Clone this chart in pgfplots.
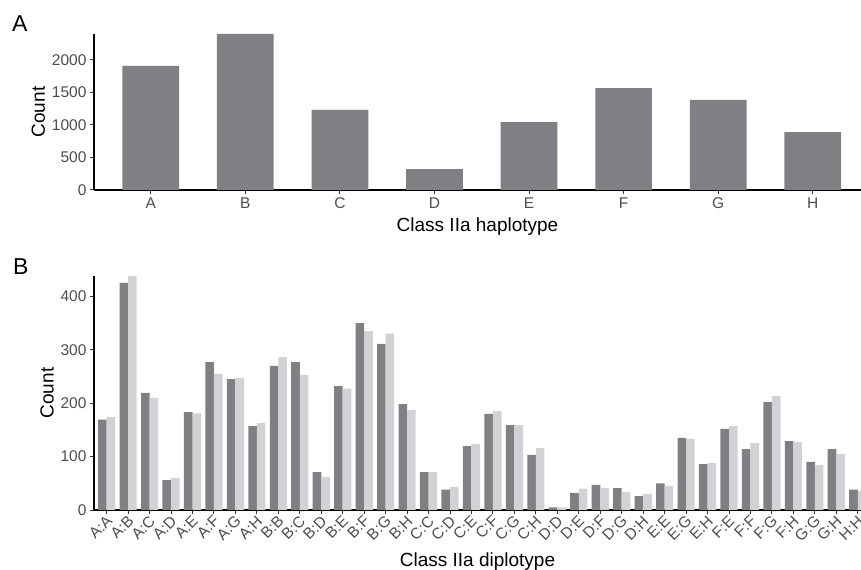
\documentclass[border=0pt]{standalone}
\usepackage{pgfplots}
\pgfplotsset{compat=1.18}
\usepackage{fontspec}
\setmainfont{Liberation Sans}

\definecolor{bardark}{RGB}{128,128,132}
\definecolor{barlight}{RGB}{209,210,212}
\definecolor{ticktext}{RGB}{77,77,77}
\definecolor{tickline}{RGB}{51,51,51}

\pgfplotsset{
  panel/.style={
    scale only axis, width=767bp,
    axis x line*=bottom, axis y line*=left,
    axis line style={black, line width=1.1bp},
    tick align=outside, major tick length=4bp,
    tick style={tickline, line width=1bp},
    tick label style={font=\fontsize{15.5bp}{17bp}\selectfont, color=ticktext},
    label style={font=\fontsize{19bp}{22bp}\selectfont, color=black},
    ymin=0, clip=true,
    /pgf/number format/assume math mode=true,
  }
}

\begin{document}
\begin{tikzpicture}
\useasboundingbox (0,0) rectangle (861bp,570bp);
\node[anchor=base west, font=\fontsize{23bp}{25bp}\selectfont, inner sep=0pt] at (12bp,538bp) {A};
\node[anchor=base west, font=\fontsize{23bp}{25bp}\selectfont, inner sep=0pt] at (13bp,295bp) {B};

% haplotype counts
\begin{axis}[panel, at={(94bp,380bp)}, anchor=south west, height=156bp,
  xmin=-0.6, xmax=7.51, ymax=2400,
  xtick={0,1,2,3,4,5,6,7}, xticklabels={A,B,C,D,E,F,G,H},
  ytick={0,500,1000,1500,2000}, yticklabels={0,500,1000,1500,2000},
  xlabel={Class IIa haplotype}, ylabel={Count},
  xlabel style={yshift=-2bp}]
\addplot[ybar, bar width=0.6, fill=bardark, draw=none] coordinates {
  (0,1908) (1,2400) (2,1231) (3,323) (4,1046) (5,1569) (6,1385) (7,892)
};
\end{axis}

% diplotype counts, two series side by side
\begin{axis}[panel, at={(94bp,60bp)}, anchor=south west, height=234bp,
  xmin=-0.59, xmax=35.15, ymax=438,
  xtick={0,...,35},
  xticklabels={A:A,A:B,A:C,A:D,A:E,A:F,A:G,A:H,B:B,B:C,B:D,B:E,B:F,B:G,B:H,
    C:C,C:D,C:E,C:F,C:G,C:H,D:D,D:E,D:F,D:G,D:H,E:E,E:G,E:H,F:E,F:F,F:G,F:H,
    G:G,G:H,H:H},
  xticklabel style={rotate=45, anchor=east, inner sep=1bp, yshift=-5bp},
  ytick={0,100,200,300,400},
  xlabel={Class IIa diplotype}, ylabel={Count},
  xlabel style={yshift=-5bp}]
\addplot[ybar, bar width=0.4, bar shift=-0.2, fill=bardark, draw=none] coordinates {
  (0,169) (1,425) (2,219) (3,56) (4,183) (5,277) (6,245) (7,157)
  (8,270) (9,277) (10,71) (11,232) (12,350) (13,311) (14,198)
  (15,71) (16,38) (17,120) (18,180) (19,159) (20,103)
  (21,5) (22,32) (23,47) (24,41) (25,26)
  (26,50) (27,135) (28,86) (29,152) (30,114) (31,202) (32,129)
  (33,90) (34,114) (35,38)
};
\addplot[ybar, bar width=0.4, bar shift=0.2, fill=barlight, draw=none] coordinates {
  (0,174) (1,438) (2,210) (3,60) (4,181) (5,255) (6,247) (7,163)
  (8,286) (9,253) (10,62) (11,227) (12,335) (13,330) (14,187)
  (15,71) (16,43) (17,124) (18,185) (19,159) (20,116)
  (21,5) (22,40) (23,41) (24,34) (25,30)
  (26,45) (27,133) (28,88) (29,157) (30,125) (31,213) (32,127)
  (33,84) (34,105) (35,36)
};
\end{axis}
\end{tikzpicture}
\end{document}
